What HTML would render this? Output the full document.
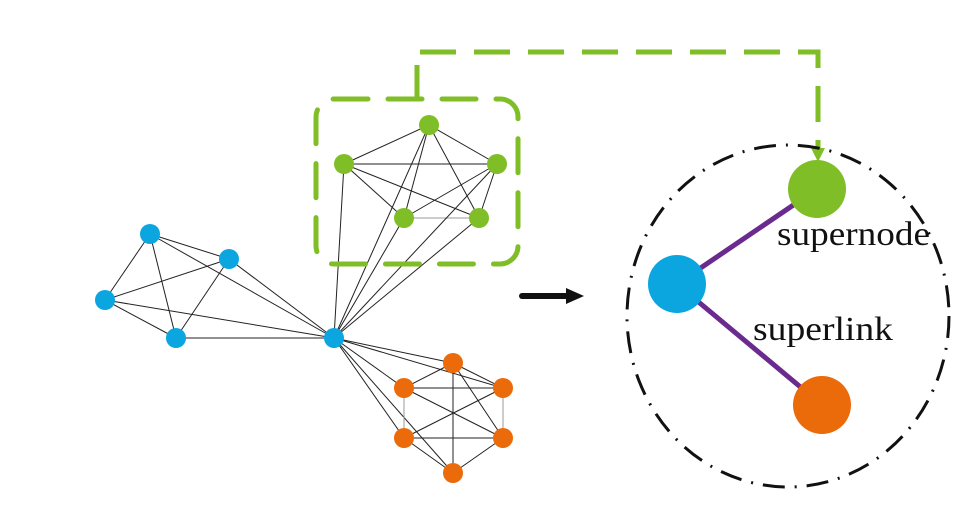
<!DOCTYPE html>
<html><head><meta charset="utf-8"><style>html,body{margin:0;padding:0;background:#fff}</style></head><body>
<svg width="975" height="514" viewBox="0 0 975 514" xmlns="http://www.w3.org/2000/svg">
<g stroke="#222" stroke-width="1" fill="none">
<line x1="429" y1="125" x2="344" y2="164"/><line x1="429" y1="125" x2="497" y2="164"/>
<line x1="429" y1="125" x2="404" y2="218"/><line x1="429" y1="125" x2="479" y2="218"/>
<line x1="344" y1="164" x2="497" y2="164"/><line x1="344" y1="164" x2="404" y2="218"/>
<line x1="344" y1="164" x2="479" y2="218"/><line x1="497" y1="164" x2="404" y2="218"/>
<line x1="497" y1="164" x2="479" y2="218"/><line x1="404" y1="218" x2="479" y2="218" stroke="#999"/>
<line x1="334" y1="338" x2="344" y2="164"/><line x1="334" y1="338" x2="429" y2="125"/>
<line x1="334" y1="338" x2="404" y2="218"/><line x1="334" y1="338" x2="497" y2="164"/>
<line x1="334" y1="338" x2="479" y2="218"/>
<line x1="150" y1="234" x2="229" y2="259"/><line x1="150" y1="234" x2="105" y2="300"/>
<line x1="150" y1="234" x2="176" y2="338"/><line x1="150" y1="234" x2="334" y2="338"/>
<line x1="229" y1="259" x2="105" y2="300"/><line x1="229" y1="259" x2="176" y2="338"/>
<line x1="229" y1="259" x2="334" y2="338"/><line x1="105" y1="300" x2="176" y2="338"/>
<line x1="105" y1="300" x2="334" y2="338"/><line x1="176" y1="338" x2="334" y2="338"/>
<line x1="334" y1="338" x2="453" y2="363"/><line x1="334" y1="338" x2="503" y2="388"/>
<line x1="334" y1="338" x2="404" y2="388"/><line x1="334" y1="338" x2="404" y2="438"/>
<line x1="334" y1="338" x2="453" y2="473"/>
<line x1="453" y1="363" x2="404" y2="388"/><line x1="453" y1="363" x2="503" y2="388"/>
<line x1="453" y1="363" x2="453" y2="473"/><line x1="453" y1="363" x2="503" y2="438"/>
<line x1="404" y1="388" x2="503" y2="388"/><line x1="404" y1="388" x2="404" y2="438" stroke="#999"/>
<line x1="404" y1="388" x2="503" y2="438"/><line x1="503" y1="388" x2="503" y2="438" stroke="#999"/>
<line x1="503" y1="388" x2="404" y2="438"/><line x1="404" y1="438" x2="503" y2="438"/>
<line x1="404" y1="438" x2="453" y2="473"/><line x1="503" y1="438" x2="453" y2="473"/>
</g>
<g fill="#7fbe26">
<circle cx="429" cy="125" r="10"/><circle cx="344" cy="164" r="10"/><circle cx="497" cy="164" r="10"/>
<circle cx="404" cy="218" r="10"/><circle cx="479" cy="218" r="10"/>
</g>
<g fill="#0ba6e0">
<circle cx="150" cy="234" r="10"/><circle cx="229" cy="259" r="10"/><circle cx="105" cy="300" r="10"/>
<circle cx="176" cy="338" r="10"/><circle cx="334" cy="338" r="10"/>
</g>
<g fill="#eb6a0a">
<circle cx="453" cy="363" r="10"/><circle cx="404" cy="388" r="10"/><circle cx="503" cy="388" r="10"/>
<circle cx="404" cy="438" r="10"/><circle cx="503" cy="438" r="10"/><circle cx="453" cy="473" r="10"/>
</g>
<rect x="316" y="99" width="202" height="165" rx="18" fill="none" stroke="#7fbe26" stroke-width="5" stroke-dasharray="34,20" stroke-linecap="round"/>
<line x1="417" y1="98" x2="417" y2="65" stroke="#7fbe26" stroke-width="5"/>
<polyline points="420,52 818,52 818,150" fill="none" stroke="#7fbe26" stroke-width="5" stroke-dasharray="36,18"/>
<polygon points="811,148 825,148 818,162" fill="#7fbe26"/>
<line x1="522" y1="296" x2="570" y2="296" stroke="#111" stroke-width="6" stroke-linecap="round"/>
<polygon points="566,288 584,296 566,304" fill="#111"/>
<ellipse cx="788" cy="316" rx="161" ry="171" fill="none" stroke="#111" stroke-width="3" stroke-dasharray="22,10,2,10"/>
<line x1="677" y1="284" x2="817" y2="189" stroke="#6a2a8e" stroke-width="5"/>
<line x1="677" y1="284" x2="822" y2="405" stroke="#6a2a8e" stroke-width="5"/>
<circle cx="817" cy="189" r="29" fill="#7fbe26"/>
<circle cx="677" cy="284" r="29" fill="#0ba6e0"/>
<circle cx="822" cy="405" r="29" fill="#eb6a0a"/>
<text x="777" y="245" font-family="Liberation Serif, serif" font-size="34" fill="#111" textLength="153" lengthAdjust="spacingAndGlyphs">supernode</text>
<text x="753" y="340" font-family="Liberation Serif, serif" font-size="34" fill="#111" textLength="140" lengthAdjust="spacingAndGlyphs">superlink</text>
</svg>
</body></html>
